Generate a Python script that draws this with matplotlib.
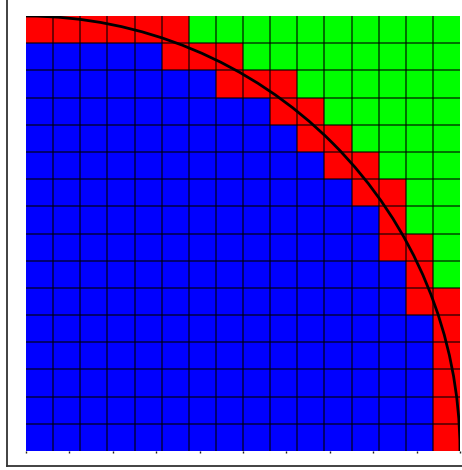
import numpy as np
import matplotlib
matplotlib.use("Agg")
import matplotlib.pyplot as plt
from matplotlib.colors import ListedColormap
from matplotlib.patches import Arc
from matplotlib.lines import Line2D

# 16x16 grid, rows listed from top to bottom:
# number of blue cells (inside) and red cells (on the arc) per row, rest green
blue_counts = [0, 5, 7, 9, 10, 11, 12, 13, 13, 14, 14, 15, 15, 15, 15, 15]
red_counts = [6, 3, 3, 2, 2, 2, 2, 1, 2, 1, 2, 1, 1, 1, 1, 1]
n_cells = 16
x_ticks = [0, 0.1, 0.2, 0.3, 0.4, 0.5, 0.6, 0.7, 0.8, 0.9, 1.0]

grid = np.full((n_cells, n_cells), 2)
for r, (nb, nr) in enumerate(zip(blue_counts, red_counts)):
    grid[r, :nb] = 0
    grid[r, nb:nb + nr] = 1
grid = grid[::-1]  # bottom row first for pcolormesh

cmap = ListedColormap(["#0000ff", "#ff0000", "#00ff00"])
edges = np.linspace(0, 1, n_cells + 1)

fig = plt.figure(figsize=(4.62, 4.70), dpi=100)
ax = fig.add_axes([26 / 462, 19 / 470, 434 / 462, 435 / 470])
ax.pcolormesh(edges, edges, grid, cmap=cmap, vmin=-0.5, vmax=2.5)
for e in edges[1:-1]:
    ax.axvline(e, color="black", lw=1.1, alpha=0.72)
    ax.axhline(e, color="black", lw=1.1, alpha=0.72)
ax.add_patch(Arc((0, 0), 2, 2, theta1=0, theta2=90, color="black", lw=2))
ax.set_xlim(0, 1)
ax.set_ylim(0, 1)
ax.set_xticks(x_ticks)
ax.set_xticklabels([])
ax.set_yticks([])
ax.tick_params(axis="x", length=1.5, width=1, direction="out", color="#222222")
for s in ax.spines.values():
    s.set_visible(False)

# outer frame (left and bottom edges visible)
fig.add_artist(Line2D([7 / 462, 7 / 462], [1 - 466 / 470, 1.0],
                      transform=fig.transFigure, color="#333333", lw=1.3))
fig.add_artist(Line2D([7 / 462, 1.0], [1 - 466 / 470, 1 - 466 / 470],
                      transform=fig.transFigure, color="#333333", lw=1.3))

fig.savefig("out.png", dpi=100)
